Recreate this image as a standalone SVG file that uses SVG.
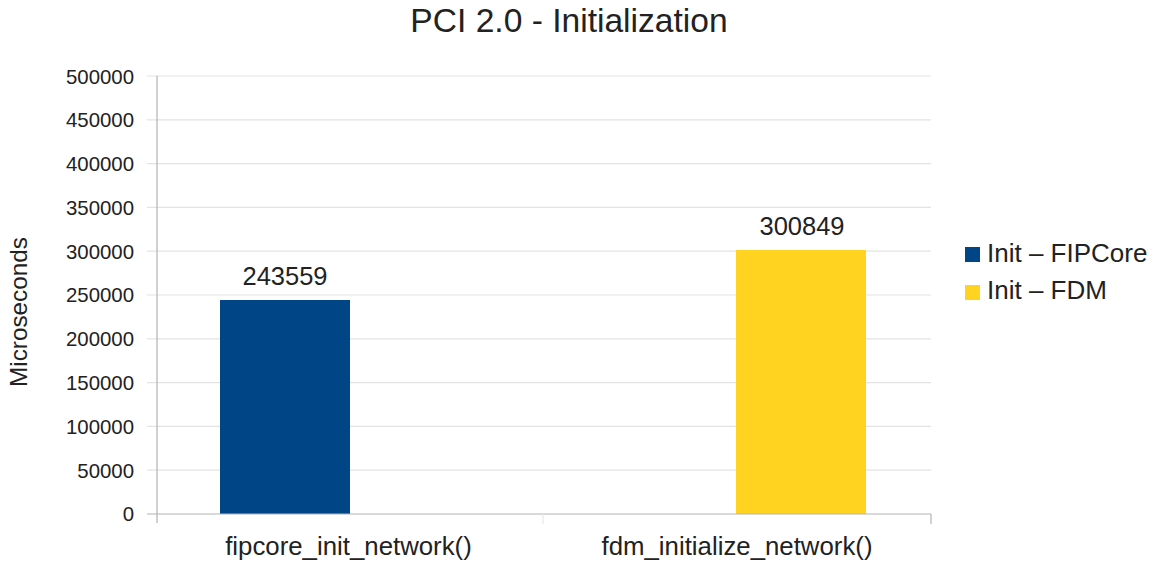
<svg xmlns="http://www.w3.org/2000/svg" width="1155" height="567" viewBox="0 0 1155 567">
<style>
text{font-family:"Liberation Sans",Arial,sans-serif;fill:#222}
.grid{stroke:#e3e3e3;stroke-width:1.2}
.axis{stroke:#b3b3b3;stroke-width:1.2}
.tick{font-size:20.4px;text-anchor:end}
.val{font-size:25.5px;text-anchor:middle}
.cat{font-size:25.8px;text-anchor:middle}
.leg{font-size:26px}
</style>
<rect width="1155" height="567" fill="#fff"/>
<text x="569" y="32" font-size="33.6" text-anchor="middle">PCI 2.0 - Initialization</text>
<g id="grid">
<line class="grid" x1="147" y1="76" x2="931" y2="76"/>
<line class="grid" x1="147" y1="119.8" x2="931" y2="119.8"/>
<line class="grid" x1="147" y1="163.6" x2="931" y2="163.6"/>
<line class="grid" x1="147" y1="207.4" x2="931" y2="207.4"/>
<line class="grid" x1="147" y1="251.2" x2="931" y2="251.2"/>
<line class="grid" x1="147" y1="295" x2="931" y2="295"/>
<line class="grid" x1="147" y1="338.8" x2="931" y2="338.8"/>
<line class="grid" x1="147" y1="382.6" x2="931" y2="382.6"/>
<line class="grid" x1="147" y1="426.4" x2="931" y2="426.4"/>
<line class="grid" x1="147" y1="470.2" x2="931" y2="470.2"/>
</g>
<g id="yticks">
<text class="tick" x="134" y="84">500000</text>
<text class="tick" x="134" y="127">450000</text>
<text class="tick" x="134" y="171">400000</text>
<text class="tick" x="134" y="215">350000</text>
<text class="tick" x="134" y="259">300000</text>
<text class="tick" x="134" y="302">250000</text>
<text class="tick" x="134" y="346">200000</text>
<text class="tick" x="134" y="390">150000</text>
<text class="tick" x="134" y="434">100000</text>
<text class="tick" x="134" y="478">50000</text>
<text class="tick" x="134" y="521">0</text>
</g>
<text x="27" y="312" font-size="24.3" text-anchor="middle" transform="rotate(-90 27 312)">Microseconds</text>
<g id="bar-fipcore">
<rect x="220" y="300" width="130" height="214" fill="#004586"/>
<text class="val" x="285" y="285">243559</text>
</g>
<g id="bar-fdm">
<rect x="736" y="250" width="130" height="264" fill="#ffd320"/>
<text class="val" x="802" y="235">300849</text>
</g>
<g id="axes">
<line class="axis" x1="157" y1="76" x2="157" y2="523"/>
<line class="axis" x1="147" y1="514" x2="931" y2="514"/>
<line class="axis" x1="931" y1="514" x2="931" y2="524"/>
<line x1="543" y1="514" x2="543" y2="524" stroke="#e8e8e8" stroke-width="1.2"/>
</g>
<text class="cat" x="348.5" y="555">fipcore_init_network()</text>
<text class="cat" x="737" y="555">fdm_initialize_network()</text>
<g id="legend">
<rect x="965" y="247" width="15" height="15" fill="#004586"/>
<text class="leg" x="987" y="262">Init – FIPCore</text>
<rect x="965" y="285" width="15" height="15" fill="#ffd320"/>
<text class="leg" x="987" y="299">Init – FDM</text>
</g>
</svg>
